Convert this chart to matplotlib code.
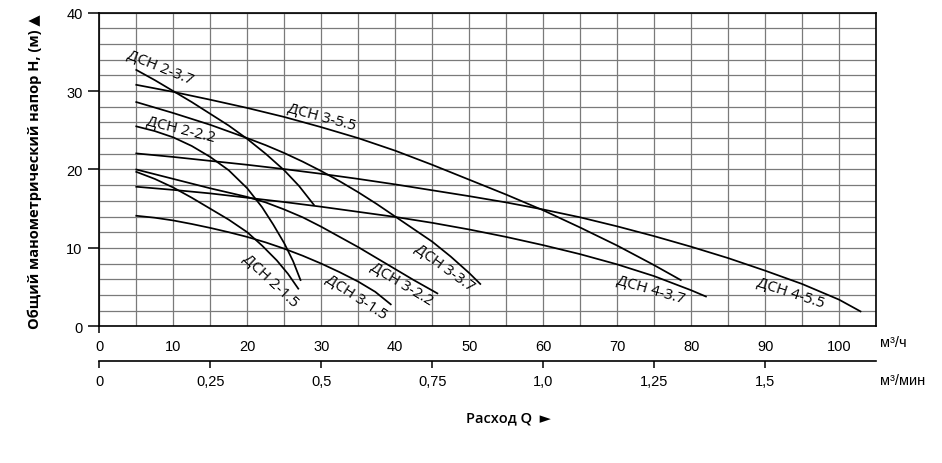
import matplotlib
matplotlib.use("Agg")
import matplotlib.pyplot as plt

# pump curves: flow Q (m3/h) vs head H (m)
dsn_2_15_q = [5, 7.5, 10, 12.5, 15, 17.5, 20, 22, 24, 25.5, 26.9]
dsn_2_15_h = [19.7, 18.8, 17.7, 16.4, 15.0, 13.6, 12.0, 10.3, 8.4, 6.7, 4.8]

dsn_2_22_q = [5, 7.5, 10, 12.5, 15, 17.5, 20, 22, 23.5, 25, 26.2, 27.2]
dsn_2_22_h = [25.5, 24.9, 24.1, 23.0, 21.6, 19.9, 17.6, 15.2, 13.0, 10.6, 8.3, 5.9]

dsn_2_37_q = [5, 7.5, 10, 12.5, 15, 17.5, 20, 22.5, 25, 27, 29]
dsn_2_37_h = [32.7, 31.4, 30.0, 28.6, 27.1, 25.6, 23.9, 22.0, 19.9, 17.9, 15.5]

dsn_3_15_q = [5, 7.5, 10, 12.5, 15, 17.5, 20, 22.5, 25, 27.5, 30, 32.5, 35, 37.3, 39.4]
dsn_3_15_h = [14.1, 13.85, 13.5, 13.05, 12.55, 12.0, 11.4, 10.7, 9.9, 9.0, 8.0, 6.9, 5.7, 4.4, 2.8]

dsn_3_22_q = [5, 10, 15, 20, 22.5, 25, 27.5, 30, 32.5, 35, 37.5, 40, 42.5, 45.7]
dsn_3_22_h = [20.0, 18.8, 17.6, 16.5, 15.8, 14.9, 13.9, 12.7, 11.4, 10.1, 8.7, 7.3, 5.9, 4.2]

dsn_3_37_q = [5, 10, 15, 20, 22.5, 25, 27.5, 30, 32.5, 35, 37.5, 40, 42.5, 45, 47.5, 50, 51.5]
dsn_3_37_h = [28.6, 27.2, 25.7, 24.0, 23.1, 22.1, 21.0, 19.8, 18.5, 17.1, 15.6, 14.0, 12.4,
              10.8, 8.9, 6.8, 5.4]

dsn_3_55_q = [5, 10, 15, 20, 25, 30, 35, 40, 45, 50, 55, 60, 65, 70, 75, 78.6]
dsn_3_55_h = [30.8, 29.9, 28.9, 27.85, 26.7, 25.4, 24.0, 22.4, 20.6, 18.7, 16.8, 14.8,
              12.6, 10.3, 7.8, 5.9]

dsn_4_37_q = [5, 10, 15, 20, 25, 30, 35, 40, 45, 50, 55, 60, 65, 70, 75, 80, 82]
dsn_4_37_h = [17.8, 17.4, 16.95, 16.4, 15.85, 15.25, 14.6, 13.95, 13.2, 12.35, 11.4, 10.35,
              9.2, 7.9, 6.4, 4.6, 3.8]

dsn_4_55_q = [5, 10, 15, 20, 25, 30, 35, 40, 45, 50, 55, 60, 65, 70, 75, 80, 85, 90, 95, 100, 102.9]
dsn_4_55_h = [22.05, 21.6, 21.1, 20.6, 20.05, 19.45, 18.8, 18.1, 17.35, 16.6, 15.8, 14.9,
              13.9, 12.75, 11.5, 10.15, 8.7, 7.1, 5.4, 3.4, 1.9]

curves = [
    (dsn_2_15_q, dsn_2_15_h), (dsn_2_22_q, dsn_2_22_h), (dsn_2_37_q, dsn_2_37_h),
    (dsn_3_15_q, dsn_3_15_h), (dsn_3_22_q, dsn_3_22_h), (dsn_3_37_q, dsn_3_37_h),
    (dsn_3_55_q, dsn_3_55_h), (dsn_4_37_q, dsn_4_37_h), (dsn_4_55_q, dsn_4_55_h),
]

# curve labels: text, x, y, angle
labels = [
    ("ДСН 2-3.7", 8.2, 33.1, -22),
    ("ДСН 3-5.5", 30.1, 26.7, -15),
    ("ДСН 2-2.2", 11.0, 25.1, -14),
    ("ДСН 2-1.5", 23.1, 5.9, -43),
    ("ДСН 3-1.5", 34.7, 3.8, -33),
    ("ДСН 3-2.2", 40.8, 5.4, -31),
    ("ДСН 3-3.7", 46.6, 7.5, -36),
    ("ДСН 4-3.7", 74.5, 4.75, -16),
    ("ДСН 4-5.5", 93.4, 4.3, -18),
]

q_ticks = list(range(0, 101, 10))
min_ticks = [0, 0.25, 0.5, 0.75, 1.0, 1.25, 1.5]
min_labels = ["0", "0,25", "0,5", "0,75", "1,0", "1,25", "1,5"]

fig = plt.figure(figsize=(9.42, 4.64), dpi=100)
ax = fig.add_axes([0.1054, 0.2946, 0.8246, 0.6759])

for q, h in curves:
    ax.plot(q, h, color="black", lw=1.25, zorder=3, solid_joinstyle="round")

for txt, x, y, rot in labels:
    ax.text(x, y, txt, rotation=rot, rotation_mode="anchor", ha="center", va="center",
            fontsize=11, family="Open Sans", zorder=4)

ax.set_xlim(0, 105)
ax.set_ylim(0, 40)
ax.set_xticks(q_ticks)
ax.set_xticks(range(5, 106, 10), minor=True)
ax.set_yticks(range(0, 41, 10))
ax.set_yticks(range(2, 40, 2), minor=True)
ax.grid(which="both", color="#7a7a7a", lw=0.9, zorder=1)
ax.tick_params(axis="x", which="both", length=0, pad=9, labelsize=10.5)
ax.tick_params(axis="y", which="major", length=8, width=1.1, pad=4, labelsize=10.5)
ax.tick_params(axis="y", which="minor", length=0)
ax.xaxis.get_major_ticks()[0].tick1line.set_markersize(5)
ax.xaxis.get_major_ticks()[0].tick1line.set_markeredgewidth(1.1)
for lab in ax.get_xticklabels() + ax.get_yticklabels():
    lab.set_family("Liberation Sans")
for s in ax.spines.values():
    s.set_linewidth(1.2)
ax.set_axisbelow(True)

sec = ax.secondary_xaxis(-0.1116, functions=(lambda v: v / 60, lambda v: v * 60))
sec.set_xticks(min_ticks)
sec.set_xticklabels(min_labels, family="Liberation Sans", fontsize=10.5)
sec.tick_params(length=5, width=1.1, pad=4)
sec.spines["bottom"].set_linewidth(1.2)

fig.text(880 / 942, 1 - 343 / 464, "м³/ч", fontsize=10.5, family="Liberation Sans", va="center")
fig.text(880 / 942, 1 - 381 / 464, "м³/мин", fontsize=10.5, family="Liberation Sans", va="center")

fig.text(35 / 942, 1 - 172 / 464, "Общий манометрический напор H, (м) ▲", rotation=90,
         ha="center", va="center", fontsize=10.5, fontweight="bold",
         family=["Open Sans", "DejaVu Sans"])
fig.text(508 / 942, 1 - 418 / 464, "Расход Q  ►", ha="center", va="center",
         fontsize=10.5, fontweight="semibold", family=["Open Sans", "DejaVu Sans"])

fig.savefig("out.png", dpi=100)
